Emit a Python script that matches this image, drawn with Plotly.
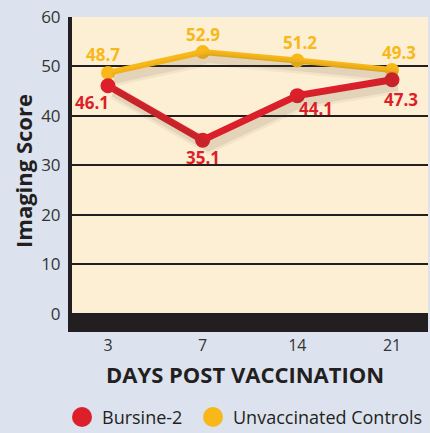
import plotly.graph_objects as go

days = ["3", "7", "14", "21"]
bursine = [46.1, 35.1, 44.1, 47.3]
controls = [48.7, 52.9, 51.2, 49.3]
y_ticks = [0, 10, 20, 30, 40, 50, 60]

RED = "#DC1F2A"
YEL = "#F8B819"
DARK = "#231F20"
FONT = "Open Sans"

W, H = 430, 433
L, R, T, B = 72, 2, 17, 101
PW, PH = W - L - R, H - T - B
XR = [-0.38, 3.38]
YR = [-3.7, 60]

def px2paper_x(px):
    return (px - L) / PW

def px2paper_y(py):
    return (H - B - py) / PH

fig = go.Figure()

# soft drop shadows drawn on shifted overlay axes (same data)
for series in (controls, bursine):
    for w, a in ((14, 0.06), (9, 0.10)):
        fig.add_trace(go.Scatter(
            x=days, y=series, mode="lines", xaxis="x2", yaxis="y2",
            line=dict(color=f"rgba(90,70,50,{a})", width=w),
            showlegend=False, hoverinfo="skip",
        ))

fig.add_trace(go.Scatter(
    x=days, y=controls, mode="lines+markers",
    line=dict(color=YEL, width=6), marker=dict(color=YEL, size=14),
    showlegend=False, cliponaxis=False,
))
fig.add_trace(go.Scatter(
    x=days, y=bursine, mode="lines+markers",
    line=dict(color=RED, width=7), marker=dict(color=RED, size=15),
    showlegend=False, cliponaxis=False,
))

# data labels (offsets in pixels); category axis -> index positions
ctrl_off = [(-5, 18), (0, 18), (3, 18), (7, 17)]
burs_off = [(-16, -17), (0, -17), (19, -13), (9, -20)]
for i, (v, (dx, dy)) in enumerate(zip(controls, ctrl_off)):
    fig.add_annotation(x=i, y=v, text=f"{v:.1f}", showarrow=False, xshift=dx, yshift=dy,
                       xanchor="center", yanchor="middle",
                       font=dict(family=FONT, size=17, color=YEL, weight="bold"))
for i, (v, (dx, dy)) in enumerate(zip(bursine, burs_off)):
    fig.add_annotation(x=i, y=v, text=f"{v:.1f}", showarrow=False, xshift=dx, yshift=dy,
                       xanchor="center", yanchor="middle",
                       font=dict(family=FONT, size=17, color=RED, weight="bold"))

# zero band
fig.add_shape(type="rect", xref="paper", yref="y", x0=0, x1=1, y0=YR[0], y1=0,
              fillcolor=DARK, line=dict(width=0), layer="above")

# axis titles
fig.add_annotation(xref="paper", yref="paper", x=0, y=px2paper_y(171), xshift=23 - L,
                   xanchor="center", yanchor="middle",
                   text="Imaging Score", textangle=-90, showarrow=False,
                   font=dict(family=FONT, size=22, color=DARK, weight="bold"))
fig.add_annotation(xref="paper", yref="paper", x=px2paper_x(245), y=px2paper_y(374),
                   xanchor="center", yanchor="middle",
                   text="DAYS POST VACCINATION", showarrow=False,
                   font=dict(family=FONT, size=22, color=DARK, weight="bold"))

# legend (manual)
legend_items = [("Bursine-2", RED, 82, 100), ("Unvaccinated Controls", YEL, 213, 231)]
for name, col, cx, tx in legend_items:
    fig.add_shape(type="circle", xref="paper", yref="paper",
                  xsizemode="pixel", ysizemode="pixel",
                  xanchor=px2paper_x(cx), yanchor=px2paper_y(417),
                  x0=-10, x1=10, y0=-10, y1=10,
                  fillcolor=col, line=dict(width=0))
    fig.add_annotation(xref="paper", yref="paper", x=px2paper_x(tx), y=px2paper_y(417),
                       xanchor="left", yanchor="middle", text=name, showarrow=False,
                       font=dict(family=FONT, size=18, color=DARK))

fig.update_layout(
    width=W, height=H,
    margin=dict(l=L, r=R, t=T, b=B),
    paper_bgcolor="#DCE3EE", plot_bgcolor="#FDEFD3",
    font=dict(family=FONT, color=DARK),
    showlegend=False,
    xaxis=dict(type="category", range=XR, showgrid=False, automargin=False,
               ticks="", tickfont=dict(size=16, color="#333333"), ticklabelstandoff=2,
               zeroline=False, showline=False),
    yaxis=dict(range=YR, tickvals=y_ticks, showgrid=True, gridcolor=DARK, gridwidth=2,
               automargin=False,
               tickfont=dict(size=17, color="#333333"), ticks="", ticklabelstandoff=4,
               zeroline=False, showline=True, linecolor=DARK, linewidth=4),
    xaxis2=dict(type="category", overlaying="x", range=[XR[0] - 0.06, XR[1] - 0.06],
                visible=False),
    yaxis2=dict(overlaying="y", range=[YR[0] + 1.3, YR[1] + 1.3], visible=False),
)

fig.write_html("out.html", config={"displayModeBar": False},
               post_script="document.body.style.margin='0px';")
